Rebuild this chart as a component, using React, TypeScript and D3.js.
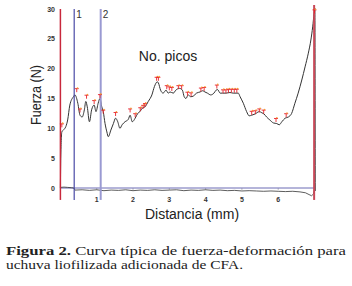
import React from "react";
import * as d3 from "d3";

// Main force-distance curve (mm, N)
const curveX = [0, 0.01, 0.04, 0.08, 0.15, 0.2, 0.26, 0.36, 0.4, 0.48, 0.54, 0.6, 0.66, 0.7, 0.74, 0.8, 0.86, 0.93, 0.98, 1.04, 1.09, 1.14, 1.18, 1.23, 1.28, 1.32, 1.39, 1.46, 1.52, 1.58, 1.64, 1.7, 1.78, 1.87, 1.92, 1.98, 2.06, 2.13, 2.19, 2.26, 2.33, 2.42, 2.52, 2.59, 2.67, 2.7, 2.76, 2.83, 2.91, 2.97, 3.02, 3.11, 3.18, 3.28, 3.36, 3.41, 3.46, 3.52, 3.59, 3.66, 3.75, 3.85, 3.92, 3.98, 4.05, 4.14, 4.23, 4.29, 4.33, 4.4, 4.47, 4.56, 4.67, 4.76, 4.84, 4.9, 4.95, 5.04, 5.13, 5.2, 5.27, 5.36, 5.48, 5.55, 5.61, 5.68, 5.77, 5.87, 5.96, 6.03, 6.1, 6.19, 6.28, 6.37, 6.46, 6.55, 6.65, 6.74, 6.83, 6.9, 6.95, 6.99, 7.01, 7.02];
const curveY = [0, 5.0, 9.4, 9.7, 10.3, 11.4, 13.9, 15.3, 15.6, 14.2, 12.2, 11.9, 13.1, 14.5, 13.6, 11.1, 13.1, 13.9, 12.8, 14.2, 15.0, 13.6, 12.8, 10.8, 9.4, 8.6, 9.7, 10.8, 11.7, 11.1, 10.0, 10.6, 11.1, 11.5, 12.2, 11.1, 11.7, 12.5, 12.8, 13.4, 13.6, 14.5, 15.6, 17.0, 17.8, 17.6, 16.4, 15.9, 16.4, 15.9, 16.1, 15.9, 16.4, 16.7, 16.4, 15.3, 15.0, 15.6, 15.3, 15.4, 15.9, 16.1, 16.3, 16.1, 15.9, 15.6, 15.9, 16.4, 16.5, 15.9, 15.9, 15.9, 16.0, 15.9, 15.9, 15.9, 15.3, 14.2, 12.8, 12.1, 12.2, 12.4, 12.8, 12.6, 12.4, 11.9, 11.4, 10.9, 10.8, 10.6, 11.1, 11.7, 11.9, 12.5, 14.2, 15.9, 18.1, 20.3, 22.6, 24.8, 27.0, 29.3, 30.1, -0.5];

// Second channel near zero
const baseX = [0, 0.1, 0.2, 0.3, 0.37, 0.4, 0.6, 0.8, 1.0, 1.2, 1.4, 1.6, 1.8, 2.0, 2.2, 2.4, 2.6, 2.8, 3.0, 3.2, 3.4, 3.6, 3.8, 4.0, 4.2, 4.4, 4.6, 4.8, 5.0, 5.2, 5.4, 5.6, 5.8, 6.0, 6.2, 6.4, 6.6, 6.75, 6.85, 6.92, 6.97, 7.0];
const baseY = [0.1, 0.15, 0.1, 0.05, 0.0, -0.35, -0.3, -0.4, -0.3, -0.45, -0.35, -0.4, -0.3, -0.45, -0.35, -0.4, -0.3, -0.4, -0.35, -0.3, -0.45, -0.35, -0.4, -0.3, -0.4, -0.35, -0.45, -0.4, -0.5, -0.45, -0.5, -0.55, -0.5, -0.55, -0.6, -0.55, -0.65, -0.8, -1.1, -1.3, -1.0, -0.2];

// Detected peaks ("No. picos")
const peakX = [0.04, 0.45, 0.54, 0.72, 0.93, 1.09, 1.18, 1.52, 1.92, 2.06, 2.2, 2.28, 2.33, 2.65, 2.7, 2.93, 3.0, 3.07, 3.25, 3.34, 3.5, 3.6, 3.87, 3.96, 4.31, 4.48, 4.56, 4.63, 4.71, 4.79, 4.86, 5.27, 5.37, 5.48, 5.6, 5.94, 6.22, 7.0];
const peakY = [10.5, 16.4, 13.0, 15.3, 14.4, 15.4, 12.8, 12.4, 13.0, 12.2, 13.2, 13.6, 13.9, 18.3, 18.3, 16.9, 16.7, 16.6, 16.9, 16.9, 15.8, 15.7, 16.5, 16.6, 17.0, 16.2, 16.2, 16.3, 16.3, 16.3, 16.3, 12.6, 12.7, 13.0, 12.8, 11.4, 12.2, 29.6];

const yTicks = [0, 5, 10, 15, 20, 25, 30];
const xTicks = [1, 2, 3, 4, 5, 6];
const markerLines = [
  { x: 0, label: "", color: "#c8283c", width: 1.5 },
  { x: 0.38, label: "1", color: "#4a4aa6", width: 1.2 },
  { x: 1.11, label: "2", color: "#9a9ad2", width: 2 },
  { x: 6.99, label: "", color: "#c84858", width: 2 },
];

const SANS = "'Liberation Sans', Arial, sans-serif";
const SERIF = "'Liberation Serif', 'DejaVu Serif', 'Times New Roman', serif";

export default function App() {
  const x = d3.scaleLinear().domain([0, 7]).range([60.4, 314.5]);
  const y = d3.scaleLinear().domain([0, 30]).range([188, 9]);
  const line = d3.line<number>()
    .x((_, i) => x(curveX[i]))
    .y((d) => y(d))
    .curve(d3.curveMonotoneX);
  const baseLine = d3.line<number>()
    .x((_, i) => x(baseX[i]))
    .y((d) => y(d));

  return (
    <div style={{ position: "absolute", left: 0, top: 0 }}>
      <svg width={352} height={286} style={{ display: "block", background: "#fff" }}>
        {yTicks.map((t) => (
          <text key={t} x={55} y={y(t) + 2.5} textAnchor="end" fontFamily={SANS} fontWeight="bold" fontSize={7} fill="#333">
            {t}
          </text>
        ))}
        {xTicks.map((t) => (
          <g key={t}>
            <line x1={x(t)} x2={x(t)} y1={y(0)} y2={y(0) + 2} stroke="#999" strokeWidth={0.6} />
            <text x={x(t)} y={202} textAnchor="middle" fontFamily={SANS} fontWeight="bold" fontSize={7} fill="#333">
              {t}
            </text>
          </g>
        ))}
        <line x1={x(0)} x2={x(7)} y1={y(0)} y2={y(0)} stroke="#6a6ab4" strokeWidth={1} />
        <path d={baseLine(baseY) || ""} fill="none" stroke="#333" strokeWidth={0.8} />
        <path d={line(curveY) || ""} fill="none" stroke="#333" strokeWidth={1} />
        {markerLines.map((m, i) => (
          <g key={i}>
            <line x1={x(m.x)} x2={x(m.x)} y1={i === 3 ? 5 : y(30)} y2={y(-2)} stroke={m.color} strokeWidth={m.width} />
            {m.label && (
              <text x={x(m.x) + 2} y={18} fontFamily={SANS} fontSize={10} fill="#333">
                {m.label}
              </text>
            )}
          </g>
        ))}
        {peakX.map((px, i) => {
          const cx = x(px);
          const cy = y(peakY[i]);
          return (
            <g key={i}>
              <path d={`M${cx - 2},${cy - 1.5}h4M${cx},${cy - 1.5}v3.5`} stroke="#e8202a" strokeWidth={0.9} fill="none" />
              <circle cx={cx + 0.8} cy={cy - 2.2} r={0.8} fill="#f5a030" />
            </g>
          );
        })}
        <text x={168} y={61} textAnchor="middle" fontFamily={SANS} fontSize={14} fill="#222">
          No. picos
        </text>
        <text transform="translate(41,95) rotate(-90)" textAnchor="middle" fontFamily={SANS} fontSize={14} fill="#222" textLength={60} lengthAdjust="spacingAndGlyphs">
          Fuerza (N)
        </text>
        <text x={192} y={219} textAnchor="middle" fontFamily={SANS} fontSize={14} fill="#222">
          Distancia (mm)
        </text>
        <text x={6} y={255} fontFamily={SERIF} fontSize={12.5} fill="#222" textLength={340} lengthAdjust="spacingAndGlyphs">
          <tspan fontWeight="bold">Figura 2.</tspan> Curva típica de fuerza-deformación para
        </text>
        <text x={6} y={269} fontFamily={SERIF} fontSize={12.5} fill="#222" textLength={237} lengthAdjust="spacingAndGlyphs">
          uchuva liofilizada adicionada de CFA.
        </text>
      </svg>
    </div>
  );
}
